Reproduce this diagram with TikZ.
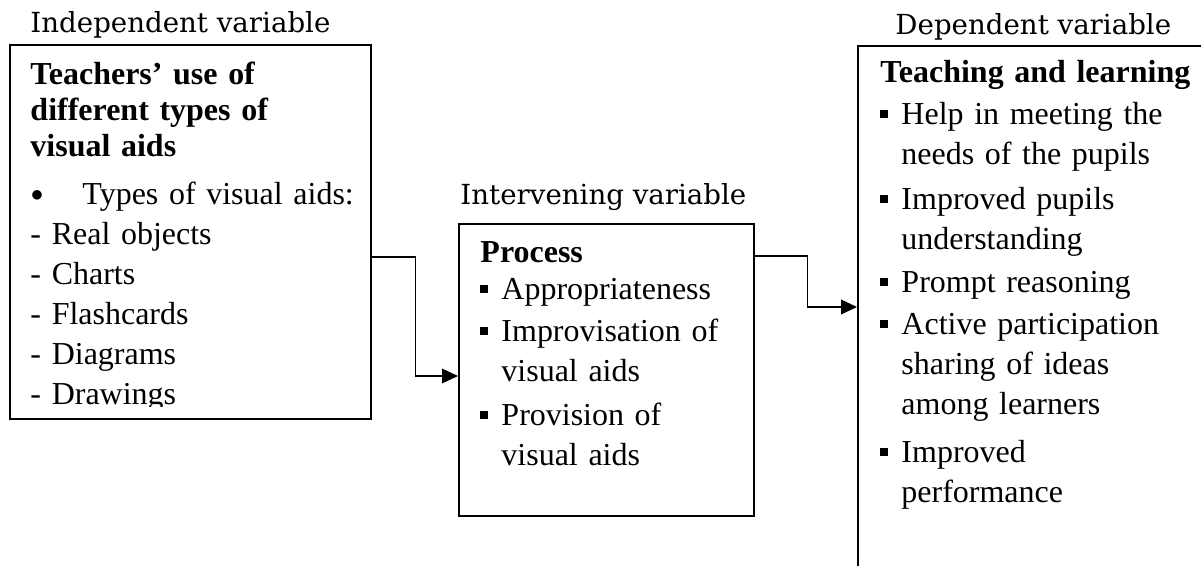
\documentclass[tikz,border=0pt]{standalone}
\usepackage{fontspec}
\setmainfont{Liberation Serif}
\newfontfamily\hdfont{DejaVu Serif}
\usetikzlibrary{arrows.meta,calc}
\newcommand{\sqb}{\makebox[0.315cm][l]{\rule[0.105cm]{0.12cm}{0.12cm}}}
\newcommand{\hang}{\hspace*{0.315cm}}

\begin{document}
\begin{tikzpicture}[>={Triangle[length=2.4mm, width=2.2mm]},
  varbox/.style={rectangle, draw, line width=0.65pt, anchor=north west, inner sep=0pt},
  hd/.style={font=\hdfont\fontsize{11.8}{13}\selectfont, anchor=base west, inner sep=0pt},
  body/.style={font=\fontsize{13.65}{17.07}\selectfont, anchor=base west, inner sep=0pt, align=left},
  link/.style={->, line width=0.6pt}]
  \useasboundingbox (0,0) rectangle (18.015,-8.49);
  \clip (0,0) rectangle (18.015,-8.49);

  % boxes
  \node[varbox, minimum width=5.415cm, minimum height=5.61cm] (indep) at (0.135,-0.66) {};
  \node[varbox, minimum width=4.425cm, minimum height=4.38cm] (proc) at (6.87,-3.345) {};
  \node[varbox, minimum width=5.6cm, minimum height=8.2cm] (dep) at (12.855,-0.675) {};

  % headings
  \node[hd] (hindep) at (0.45,-0.495) {Independent variable};
  \node[hd] (hproc) at (6.9,-3.075) {Intervening variable};
  \node[hd] (hdep) at (13.425,-0.525) {Dependent variable};

  % box texts
  \begin{scope}
    \clip (indep.north west) rectangle ($(indep.south east)+(0,0.195)$);
    \node[body, text width=5cm] (tindep) at (0.45,-1.275)
      {\textbf{Teachers’ use of}\\[-0.06cm]
       \textbf{different types of}\\[-0.06cm]
       \textbf{visual aids}\\[0.12cm]
       \makebox[0.78cm][l]{\raisebox{-1.5pt}{\fontsize{17}{17}\selectfont•}}Types of visual aids:\\
       - Real objects\\
       - Charts\\
       - Flashcards\\
       - Diagrams\\
       - Drawings};
  \end{scope}
  \node[body, text width=4cm] (tproc) at (7.2,-3.93)
    {\textbf{Process}\\[-0.03cm]
     \sqb Appropriateness\\[0.03cm]
     \sqb Improvisation of\\
     \hang visual aids\\[0.06cm]
     \sqb Provision of\\
     \hang visual aids};
  \node[body, text width=5cm] (tdep) at (13.2,-1.245)
    {\textbf{Teaching and learning}\\[0.03cm]
     \sqb Help in meeting the\\
     \hang needs of the pupils\\[0.075cm]
     \sqb Improved pupils\\
     \hang understanding\\[0.045cm]
     \sqb Prompt reasoning\\[0.03cm]
     \sqb Active participation\\
     \hang sharing of ideas\\
     \hang among learners\\[0.12cm]
     \sqb Improved\\
     \hang performance};

  % connectors
  \draw[link] ($(indep.north east)+(0,-3.195)$) -- ++(0.66,0) |- ($(proc.north west)+(0,-2.295)$);
  \draw[link] ($(proc.north east)+(0,-0.495)$) -- ++(0.795,0) |- ($(dep.north west)+(0,-3.93)$);
\end{tikzpicture}
\end{document}
